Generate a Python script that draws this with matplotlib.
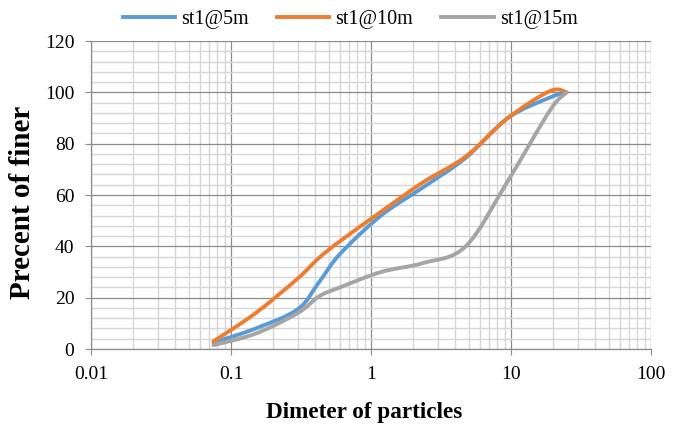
import numpy as np
import matplotlib
matplotlib.use('Agg')
import matplotlib.pyplot as plt
from matplotlib.path import Path
from matplotlib.patches import PathPatch
from matplotlib.lines import Line2D
from matplotlib.ticker import MultipleLocator, LogLocator, FuncFormatter, NullFormatter

# sieve sizes and percent finer
sieve = [0.075, 0.15, 0.3, 0.425, 0.6, 1.18, 2.36, 4.75, 9.5, 19, 25]
st1_5m = [2.5, 8, 15.5, 26, 37, 52, 63, 74.5, 90, 98, 100]
st1_10m = [3, 14, 27.5, 35.5, 42, 53.5, 65, 75, 90, 100.5, 100]
st1_15m = [1.5, 6, 14, 20.5, 24, 30, 33.5, 40, 65.5, 93, 100]

series_names = ['st1@5m', 'st1@10m', 'st1@15m']
colors = ['#5B9BD5', '#ED7D31', '#A5A5A5']

plt.rcParams['font.family'] = ['Liberation Serif', 'DejaVu Serif']


def smooth_path(x, y):
    # excel-like smoothed line: cubic bezier through the points (log x space)
    lx = np.log10(np.asarray(x, dtype=float))
    y = np.asarray(y, dtype=float)
    n = len(lx)
    verts = [(lx[0], y[0])]
    codes = [Path.MOVETO]
    for i in range(n - 1):
        a = max(i - 1, 0)
        b = min(i + 2, n - 1)
        c1 = (lx[i] + (lx[i + 1] - lx[a]) / 6, y[i] + (y[i + 1] - y[a]) / 6)
        c2 = (lx[i + 1] - (lx[b] - lx[i]) / 6, y[i + 1] - (y[b] - y[i]) / 6)
        verts += [c1, c2, (lx[i + 1], y[i + 1])]
        codes += [Path.CURVE4] * 3
    verts = [(10 ** vx, vy) for vx, vy in verts]
    return Path(verts, codes)


fig = plt.figure(figsize=(6.8, 4.28), dpi=100)
ax = fig.add_axes([91 / 680, 79 / 428, 560 / 680, 308 / 428])

ax.set_xscale('log')
ax.set_xlim(0.01, 100)
ax.set_ylim(0, 120)

for vals, c in zip([st1_5m, st1_10m, st1_15m], colors):
    patch = PathPatch(smooth_path(sieve, vals), fill=False, edgecolor=c,
                      lw=2.8, capstyle='round', joinstyle='round', zorder=3)
    ax.add_patch(patch)

ax.xaxis.set_major_locator(LogLocator(base=10, numticks=10))
ax.xaxis.set_minor_locator(LogLocator(base=10, subs=np.arange(2, 10), numticks=20))
ax.xaxis.set_major_formatter(FuncFormatter(lambda v, p: '%g' % v))
ax.xaxis.set_minor_formatter(NullFormatter())
ax.yaxis.set_major_locator(MultipleLocator(20))
ax.yaxis.set_minor_locator(MultipleLocator(4))

ax.grid(which='major', color='#8c8c8c', lw=0.9, zorder=1)
ax.grid(which='minor', color='#d6d6d6', lw=1.0, zorder=0)
ax.set_axisbelow(True)

for s in ['top', 'right']:
    ax.spines[s].set_visible(False)
for s in ['left', 'bottom']:
    ax.spines[s].set_color('#8c8c8c')
    ax.spines[s].set_linewidth(0.9)

ax.tick_params(which='major', length=4, color='#8c8c8c', labelsize=14)
ax.tick_params(axis='x', which='major', pad=8)
ax.tick_params(axis='y', which='major', pad=8)
ax.tick_params(which='minor', length=0)

ax.set_xlabel('Dimeter of particles', fontsize=16.7, fontweight='bold')
ax.xaxis.set_label_coords(273.5 / 560, -53 / 308)
ax.set_ylabel('Precent of finer', fontsize=21, fontweight='bold')
ax.yaxis.set_label_coords(-55 / 560, 147 / 308)

handles = [Line2D([], [], color=c, lw=2.8) for c in colors]
fig.legend(handles, series_names, loc='center', bbox_to_anchor=(0.515, 0.955),
           ncol=3, frameon=False, fontsize=14.5, handlelength=2.6,
           handletextpad=0.3, columnspacing=1.4)

fig.savefig('out.png', dpi=100)
